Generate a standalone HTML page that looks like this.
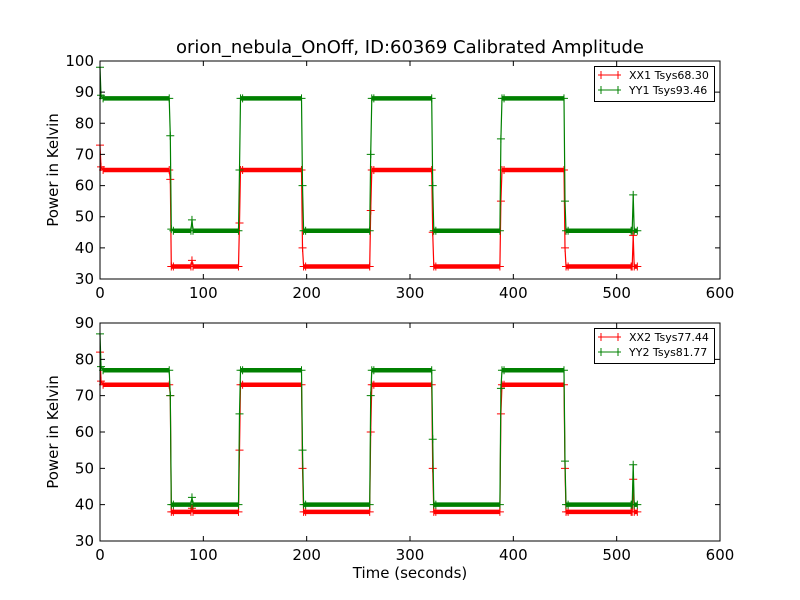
<!DOCTYPE html>
<html><head><meta charset="utf-8"><style>
body{margin:0;background:#fff}
svg{display:block;font-family:"DejaVu Sans","Liberation Sans",sans-serif}
</style></head><body>
<svg id="chart" width="800" height="600" xmlns="http://www.w3.org/2000/svg">
<rect width="800" height="600" fill="#fff"/>
<text x="410" y="53" font-size="18" text-anchor="middle">orion_nebula_OnOff, ID:60369 Calibrated Amplitude</text>
<text x="410" y="578" font-size="15" text-anchor="middle">Time (seconds)</text>
</svg>
<script>
const times = [0,1,3,67,68,69,71,88,89,90,134,135,136,138,195,196,197,199,261,262,263,265,321,322,323,325,387,388,389,391,449,450,451,453,514,515,516,517,520];
const xx1 = [73,66,65,65,62,34,34,34,36,34,34,48,65,65,65,40,34,34,34,52,65,65,65,45,34,34,34,55,65,65,65,40,34,34,34,34,44,34,34];
const yy1 = [98,89,88,88,76,46,45.5,45.5,49,45.5,45.5,65,88,88,88,60,45.5,45.5,45.5,70,88,88,88,60,45.5,45.5,45.5,75,88,88,88,55,45.5,45.5,45.5,45.5,57,45.5,45.5];
const xx2 = [82,74,73,73,70,38,38,38,39,38,38,55,73,73,73,50,38,38,38,60,73,73,73,50,38,38,38,65,73,73,73,50,38,38,38,38,47,38,38];
const yy2 = [87,78,77,77,70,40,40,40,42,40,40,65,77,77,77,55,40,40,40,70,77,77,77,58,40,40,40,72,77,77,77,52,40,40,40,40,51,40,40];
const xTicks = [0,100,200,300,400,500,600];
const yTicksTop = [30,40,50,60,70,80,90,100];
const yTicksBot = [30,40,50,60,70,80,90];
const legendTop = ["XX1 Tsys68.30","YY1 Tsys93.46"];
const legendBot = ["XX2 Tsys77.44","YY2 Tsys81.77"];

const svg = document.getElementById('chart');
const NS = 'http://www.w3.org/2000/svg';
function mk(tag, attrs, parent){const e=document.createElementNS(NS,tag);for(const k in attrs)e.setAttribute(k,attrs[k]);(parent||svg).appendChild(e);return e;}

function panel(name, top, bottom, ymin, ymax, yTicks, series, labels){
  const L=100,R=720;
  const g = mk('g',{});
  
  
  const sx = v => L + (v-0)/(600-0)*(R-L);
  const sy = v => bottom - (v-ymin)/(ymax-ymin)*(bottom-top);
  const colors=['#ff0000','#008000'];
  series.forEach((s,i)=>{
    let d=''; s.forEach((v,j)=>{d+=(j?'L':'M')+sx(times[j]).toFixed(1)+' '+sy(v).toFixed(1);});
    const p = mk('path',{d:d,fill:'none',stroke:colors[i],'stroke-width':1.2},g);
    
    
    for(let j=1;j<s.length;j++){
      if(s[j]===s[j-1]){
        const b = mk('path',{d:`M${sx(times[j-1])} ${sy(s[j])}H${sx(times[j])}`,stroke:colors[i],'stroke-width':4.5},g);
        
        
      }
    }
    s.forEach((v,j)=>{
      const x=sx(times[j]),y=sy(v);
      const m = mk('path',{d:`M${x-4} ${y}H${x+4}M${x} ${y-4}V${y+4}`,stroke:colors[i],'stroke-width':1},g);
      
      
    });
  });
  const frame = mk('rect',{x:L,y:top,width:R-L,height:bottom-top,fill:'none',stroke:'#000','stroke-width':1},g);
  
  
  xTicks.forEach(t=>{
    const x=sx(t);
    mk('path',{d:`M${x} ${bottom}v-5M${x} ${top}v5`,stroke:'#000'},g);
    const tx = mk('text',{x:x,y:bottom+19,'font-size':15,'text-anchor':'middle'},g);
    
    
    tx.textContent=t;
  });
  yTicks.forEach(t=>{
    const y=sy(t);
    mk('path',{d:`M${L} ${y}h5M${R} ${y}h-5`,stroke:'#000'},g);
    const ty = mk('text',{x:L-6,y:y+5,'font-size':15,'text-anchor':'end'},g);
    
    
    ty.textContent=t;
  });
  const yl = mk('text',{x:0,y:0,'font-size':15,'text-anchor':'middle',transform:`translate(58 ${(top+bottom)/2}) rotate(-90)`},g);
  
  
  yl.textContent='Power in Kelvin';
  const lg = mk('g',{},g);
  
  
  mk('rect',{x:594.5,y:top+5.5,width:120,height:35,fill:'#fff',stroke:'#000'},lg);
  labels.forEach((lab,i)=>{
    const y=top+14+i*15;
    mk('path',{d:`M598 ${y}h23M601 ${y-4}v8M618 ${y-4}v8`,stroke:colors[i]},lg);
    const t = mk('text',{x:629,y:y+4,'font-size':11},lg);
    
    
    t.textContent=lab;
  });
}
panel('top-panel',61,279,30,100,yTicksTop,[xx1,yy1],legendTop);
panel('bottom-panel',323,541,30,90,yTicksBot,[xx2,yy2],legendBot);
</script>
</body></html>
